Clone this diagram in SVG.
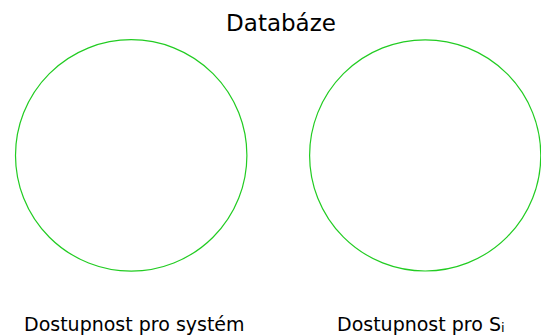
<svg xmlns="http://www.w3.org/2000/svg" width="541" height="336" viewBox="0 0 541 336">
  <style>
    .set { fill: none; stroke: #22cc22; stroke-width: 1.2; }
    .lbl { font-family: "DejaVu Sans", Verdana, sans-serif; fill: #000; }
  </style>
  <rect width="541" height="336" fill="#fff"/>
  <text class="lbl" x="281" y="31" font-size="23" text-anchor="middle">Databáze</text>
  <g id="system">
    <circle class="set" cx="131.2" cy="155.4" r="115.7"/>
    <text class="lbl" x="24" y="330.5" font-size="19">Dostupnost pro systém</text>
  </g>
  <g id="si">
    <circle class="set" cx="425.2" cy="155.4" r="115.6"/>
    <text class="lbl" x="337" y="330.5" font-size="19">Dostupnost pro S<tspan font-size="13" dy="1.5">i</tspan></text>
  </g>
  <g id="connectors"/>
</svg>
